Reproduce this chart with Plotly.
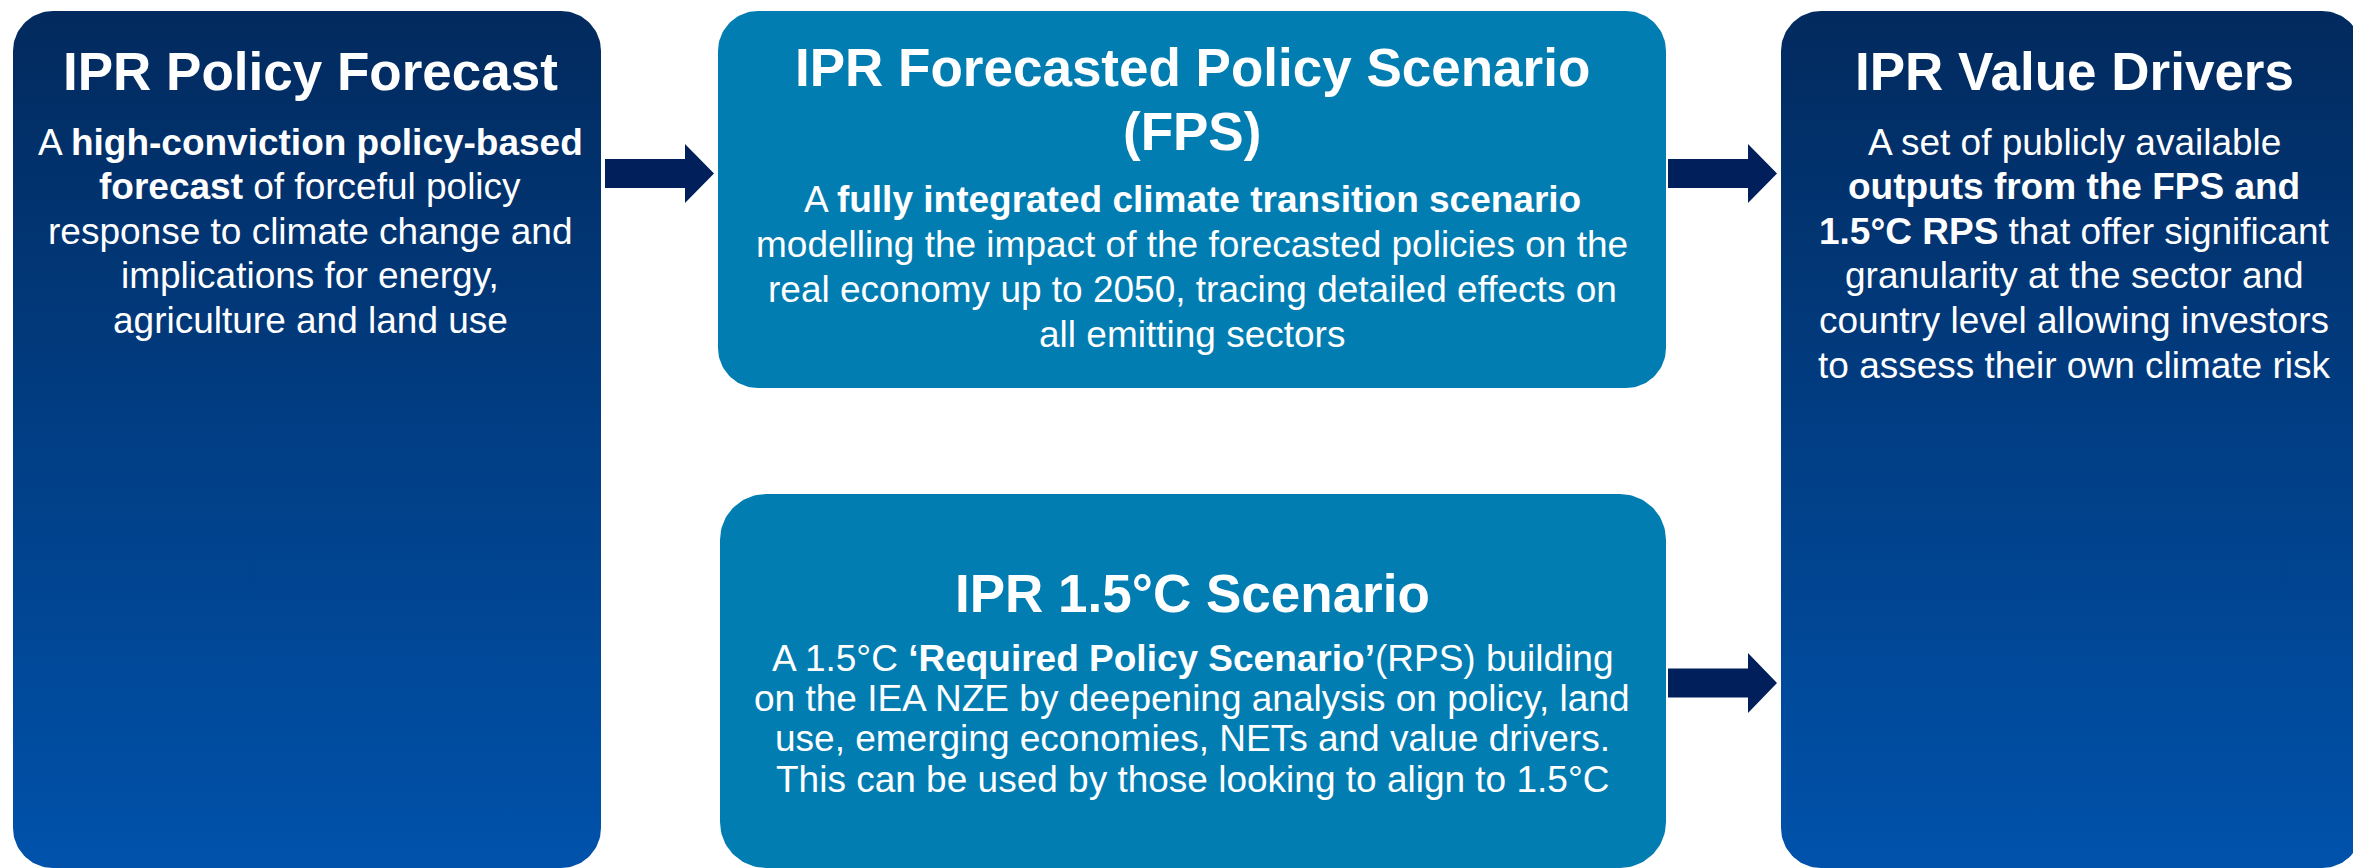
import numpy as np
import plotly.graph_objects as go

W, H = 2353, 868

# ---- boxes ----
box_x0 = [13, 718, 720, 1781]
box_x1 = [601, 1666, 1666, 2362]
box_y0 = [11, 11, 494, 11]
box_y1 = [868, 388, 868, 868]
box_r = [40, 40, 46, 40]
box_kind = ["grad", "flat", "flat", "grad"]
grad_top = "#022A5E"
grad_bottom = "#0052AB"
flat_col = "#027DB2"
arrow_col = "#001F5B"

# ---- arrows (x_start, x_headbase, x_tip, y_center, shaft_half, head_half) ----
arrow_x0 = [605, 1668, 1668]
arrow_xh = [685, 1748, 1748]
arrow_xt = [714, 1777, 1777]
arrow_yc = [173.5, 173.5, 683]
arrow_sh = [14.5, 14.5, 14.5]
arrow_hh = [29.5, 29.5, 30]

# ---- texts ----
title_font = 53
body_font = 37
text_cx = [310, 1192, 1192, 2074]

titles = [
    ["IPR Policy Forecast"],
    ["IPR Forecasted Policy Scenario", "(FPS)"],
    ["IPR 1.5°C Scenario"],
    ["IPR Value Drivers"],
]
title_base = [[90], [86, 150], [612], [90]]

bodies = [
    ["A <b>high-conviction policy-based</b>",
     "<b>forecast</b> of forceful policy",
     "response to climate change and",
     "implications for energy,",
     "agriculture and land use"],
    ["A <b>fully integrated climate transition scenario</b>",
     "modelling the impact of the forecasted policies on the",
     "real economy up to 2050, tracing detailed effects on",
     "all emitting sectors"],
    ["A 1.5°C <b>‘Required Policy Scenario’</b>(RPS) building",
     "on the IEA NZE by deepening analysis on policy, land",
     "use, emerging economies, NETs and value drivers.",
     "This can be used by those looking to align to 1.5°C"],
    ["A set of publicly available",
     "<b>outputs from the FPS and</b>",
     "<b>1.5°C RPS</b> that offer significant",
     "granularity at the sector and",
     "country level allowing investors",
     "to assess their own climate risk"],
]
body_first = [155, 212, 671, 155]
body_step = [44.5, 45, 40.3, 44.6]


def rounded_rect(x0, y0, x1, y1, r, n=24):
    xs, ys = [], []
    corners = [
        (x1 - r, y0 + r, -90, 0),
        (x1 - r, y1 - r, 0, 90),
        (x0 + r, y1 - r, 90, 180),
        (x0 + r, y0 + r, 180, 270),
    ]
    for cx, cy, a0, a1 in corners:
        t = np.radians(np.linspace(a0, a1, n))
        xs.extend(cx + r * np.cos(t))
        ys.extend(cy + r * np.sin(t))
    xs.append(xs[0])
    ys.append(ys[0])
    return xs, ys


fig = go.Figure()

for i in range(len(box_x0)):
    xs, ys = rounded_rect(box_x0[i], box_y0[i], box_x1[i], box_y1[i], box_r[i])
    kw = dict(x=xs, y=ys, mode="lines", fill="toself", line=dict(width=0),
              hoverinfo="skip", showlegend=False)
    if box_kind[i] == "grad":
        kw["fillgradient"] = dict(type="vertical",
                                  colorscale=[[0, grad_top], [1, grad_bottom]],
                                  start=box_y0[i], stop=box_y1[i])
    else:
        kw["fillcolor"] = flat_col
    fig.add_trace(go.Scatter(**kw))

for i in range(len(arrow_x0)):
    x0, xh, xt = arrow_x0[i], arrow_xh[i], arrow_xt[i]
    yc, sh, hh = arrow_yc[i], arrow_sh[i], arrow_hh[i]
    xs = [x0, xh, xh, xt, xh, xh, x0, x0]
    ys = [yc - sh, yc - sh, yc - hh, yc, yc + hh, yc + sh, yc + sh, yc - sh]
    fig.add_trace(go.Scatter(x=xs, y=ys, mode="lines", fill="toself",
                             fillcolor=arrow_col, line=dict(width=0, color=arrow_col),
                             hoverinfo="skip", showlegend=False))

FONT = "Liberation Sans, Arial, Helvetica, sans-serif"
BASE_OFF = 0.3465

annots = []
for i in range(4):
    for line, b in zip(titles[i], title_base[i]):
        annots.append(dict(x=text_cx[i], y=b - BASE_OFF * title_font, text=f"<b>{line}</b>",
                           xref="x", yref="y", showarrow=False, xanchor="center",
                           yanchor="middle",
                           font=dict(family=FONT, size=title_font, color="white")))
    for k, line in enumerate(bodies[i]):
        b = body_first[i] + k * body_step[i]
        annots.append(dict(x=text_cx[i], y=b - BASE_OFF * body_font, text=line,
                           xref="x", yref="y", showarrow=False, xanchor="center",
                           yanchor="middle",
                           font=dict(family=FONT, size=body_font, color="white")))

fig.update_layout(
    width=W, height=H,
    margin=dict(l=0, r=0, t=0, b=0),
    paper_bgcolor="white", plot_bgcolor="white",
    xaxis=dict(range=[0, W], visible=False, fixedrange=True),
    yaxis=dict(range=[H, 0], visible=False, fixedrange=True),
    annotations=annots,
    showlegend=False,
)

fig.write_html("out.html", config={"displayModeBar": False},
               post_script="document.body.style.margin='0';document.body.style.overflow='hidden';")
